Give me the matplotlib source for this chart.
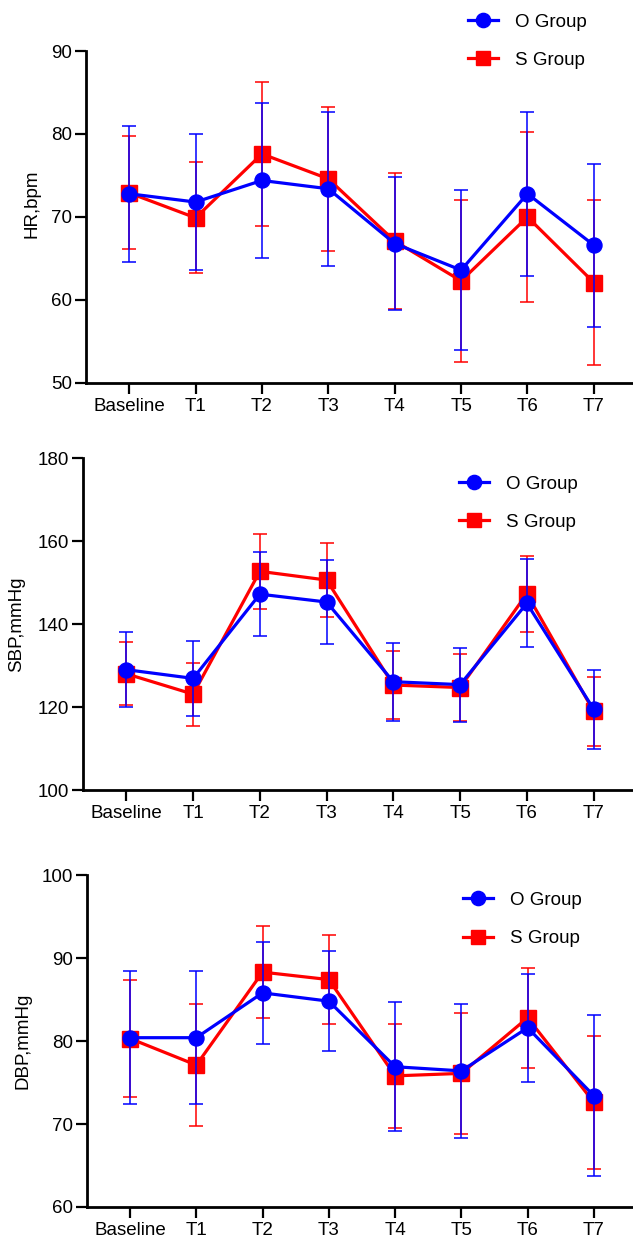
import numpy as np
import matplotlib
matplotlib.use('Agg')
import matplotlib.pyplot as plt
from matplotlib.ticker import MultipleLocator

plt.rcParams['font.family'] = ['Liberation Sans', 'DejaVu Sans']

# values (mean +/- SD)
timepoints = ['Baseline', 'T1', 'T2', 'T3', 'T4', 'T5', 'T6', 'T7']
groups = ['O Group', 'S Group']

hr_o_mean = [72.8, 71.8, 74.4, 73.4, 66.8, 63.6, 72.8, 66.6]
hr_o_sd = [8.2, 8.2, 9.3, 9.3, 8.0, 9.6, 9.9, 9.8]
hr_s_mean = [72.9, 69.9, 77.6, 74.6, 67.1, 62.3, 70.0, 62.1]
hr_s_sd = [6.8, 6.7, 8.7, 8.7, 8.2, 9.8, 10.2, 9.9]

sbp_o_mean = [129.0, 126.9, 147.2, 145.3, 126.1, 125.4, 145.0, 119.5]
sbp_o_sd = [9.0, 9.0, 10.2, 10.2, 9.4, 8.9, 10.6, 9.5]
sbp_s_mean = [128.0, 123.1, 152.7, 150.6, 125.3, 124.7, 147.3, 119.0]
sbp_s_sd = [7.6, 7.6, 9.0, 9.0, 8.2, 8.0, 9.2, 8.3]

dbp_o_mean = [80.4, 80.4, 85.8, 84.8, 76.9, 76.4, 81.6, 73.4]
dbp_o_sd = [8.0, 8.0, 6.1, 6.0, 7.8, 8.1, 6.5, 9.7]
dbp_s_mean = [80.3, 77.1, 88.3, 87.4, 75.8, 76.1, 82.8, 72.6]
dbp_s_sd = [7.1, 7.4, 5.5, 5.4, 6.3, 7.3, 6.0, 8.0]

ylabels = ['HR,bpm', 'SBP,mmHg', 'DBP,mmHg']

BLUE = '#0000FF'
RED = '#FF0000'
FS = 13.5

fig = plt.figure(figsize=(6.33, 12.41), dpi=100)

# panel boxes in figure fractions, plus y-range / tick step / label + legend anchors
panels = [
    dict(rect=[0.1359, 0.6914, 0.8641, 0.2675], ylim=(50, 90), step=10,
         o=(hr_o_mean, hr_o_sd), s=(hr_s_mean, hr_s_sd),
         lab=(-0.084, 0.54), leg=(0.698, 1.030)),
    dict(rect=[0.1311, 0.3634, 0.8689, 0.2675], ylim=(100, 180), step=20,
         o=(sbp_o_mean, sbp_o_sd), s=(sbp_s_mean, sbp_s_sd),
         lab=(-0.105, 0.5), leg=(0.684, 0.864)),
    dict(rect=[0.1374, 0.0274, 0.8626, 0.2675], ylim=(60, 100), step=10,
         o=(dbp_o_mean, dbp_o_sd), s=(dbp_s_mean, dbp_s_sd),
         lab=(-0.101, 0.5), leg=(0.689, 0.866)),
]

x = np.arange(len(timepoints))

for p, ylab in zip(panels, ylabels):
    ax = fig.add_axes(p['rect'])

    handles = {}
    # S group first so the O group sits on top
    for key, color, marker, ms, name in [('s', RED, 's', 11.2, groups[1]),
                                          ('o', BLUE, 'o', 10.8, groups[0])]:
        mean, sd = p[key]
        z = 3 if key == 's' else 5
        ax.errorbar(x, mean, yerr=sd, fmt='none', ecolor=color,
                    elinewidth=1.1, capsize=5.3, capthick=1.1, zorder=z)
        line, = ax.plot(x, mean, color=color, lw=2.3, marker=marker,
                        ms=ms, mec=color, mfc=color, zorder=z + 1, label=name)
        handles[key] = line

    ax.set_xlim(-0.65, 7.59)
    ax.set_ylim(*p['ylim'])
    ax.yaxis.set_major_locator(MultipleLocator(p['step']))
    ax.set_xticks(x)
    ax.set_xticklabels(timepoints)

    for side in ['top', 'right']:
        ax.spines[side].set_visible(False)
    for side in ['left', 'bottom']:
        ax.spines[side].set_linewidth(2.0)
    ax.tick_params(axis='both', direction='out', length=8, width=1.6,
                   labelsize=FS, color='black')
    ax.tick_params(axis='y', pad=2)
    ax.tick_params(axis='x', pad=3)

    ax.set_ylabel(ylab, fontsize=FS)
    ax.yaxis.set_label_coords(*p['lab'])

    ax.legend(handles=[handles['o'], handles['s']], loc='center left',
              bbox_to_anchor=p['leg'], frameon=False, borderpad=0,
              borderaxespad=0, handlelength=1.6, handletextpad=0.9,
              labelspacing=1.12, fontsize=FS, markerscale=0.95)

fig.savefig('out.png', dpi=100)
